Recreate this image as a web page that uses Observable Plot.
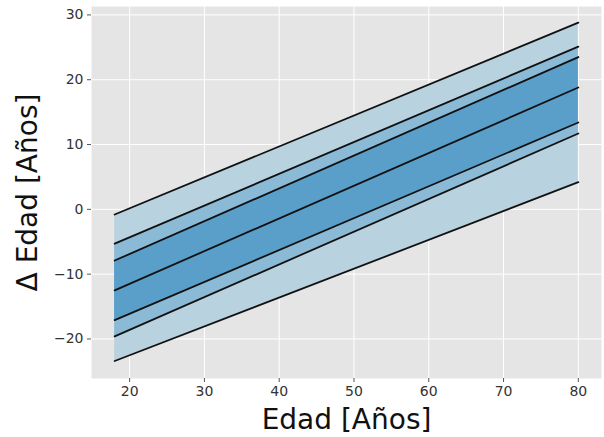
<!DOCTYPE html>
<html>
<head>
<meta charset="utf-8">
<script src="https://cdn.jsdelivr.net/npm/d3@7"></script>
<script src="https://cdn.jsdelivr.net/npm/@observablehq/plot@0.6"></script>
<style>
  html, body { margin: 0; padding: 0; background: #ffffff; }
  #chart { width: 604px; height: 437px; }
</style>
</head>
<body>
<div id="chart"></div>
<script>
// Ages (x) at the two ends of each straight line
const ages = [18, 80];
// Band edges, value at age 18 and at age 80
const outerUpper = [-0.8, 28.8];
const midUpper   = [-5.3, 25.1];
const innerUpper = [-7.9, 23.5];
const center     = [-12.5, 18.8];
const innerLower = [-17.1, 13.4];
const midLower   = [-19.6, 11.7];
const outerLower = [-23.4, 4.2];

const xTicks = [20, 30, 40, 50, 60, 70, 80];
const yTicks = [-20, -10, 0, 10, 20, 30];
const xLabel = "Edad [Años]";
const yLabel = "Δ Edad [Años]";

const bandColors = { outer: "#b9d2df", mid: "#8bbad7", inner: "#5a9fc9" };

const band = (lo, hi) => ages.map((a, i) => ({ age: a, lo: lo[i], hi: hi[i] }));
const line = (v) => ages.map((a, i) => ({ age: a, v: v[i] }));
const allLines = [outerUpper, midUpper, innerUpper, center, innerLower, midLower, outerLower];

const font = "DejaVu Sans";

const plot = Plot.plot({
  width: 604,
  height: 437,
  marginLeft: 91,
  marginRight: 3,
  marginTop: 6,
  marginBottom: 59,
  style: { fontFamily: font, background: "#ffffff" },
  x: { domain: [14.9, 83.1] },
  y: { domain: [-26.1, 31.3] },
  marks: [
    Plot.frame({ fill: "#e5e5e5", stroke: null }),
    Plot.gridX(xTicks, { stroke: "#ffffff", strokeOpacity: 1, strokeWidth: 1 }),
    Plot.gridY(yTicks, { stroke: "#ffffff", strokeOpacity: 1, strokeWidth: 1 }),
    Plot.areaY(band(outerLower, outerUpper), { x: "age", y1: "lo", y2: "hi", fill: bandColors.outer }),
    Plot.areaY(band(midLower, midUpper), { x: "age", y1: "lo", y2: "hi", fill: bandColors.mid }),
    Plot.areaY(band(innerLower, innerUpper), { x: "age", y1: "lo", y2: "hi", fill: bandColors.inner }),
    ...allLines.map(v => Plot.line(line(v), { x: "age", y: "v", stroke: "#111111", strokeWidth: 1.8 })),
    Plot.axisX(xTicks, { tickSize: 4, tickPadding: 4, fontSize: 14, color: "#333", stroke: "#555", label: null }),
    Plot.axisY(yTicks, { tickSize: 4, tickPadding: 4, fontSize: 14, color: "#333", stroke: "#555", label: null }),
    Plot.text([xLabel], { frameAnchor: "bottom", dy: 42, text: d => d, fontSize: 28, fill: "#111", lineAnchor: "middle" }),
    Plot.text([yLabel], { frameAnchor: "left", dx: -63, rotate: -90, text: d => d, fontSize: 28, fill: "#111", lineAnchor: "middle", textAnchor: "middle" })
  ]
});
document.getElementById("chart").appendChild(plot);
</script>
</body>
</html>
